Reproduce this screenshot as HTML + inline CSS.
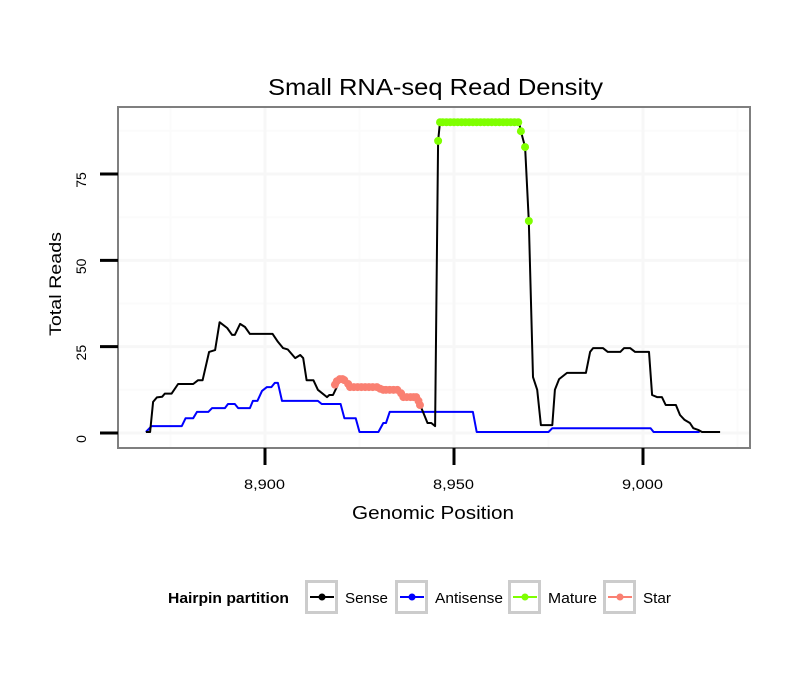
<!DOCTYPE html>
<html><head><meta charset="utf-8"><style>
body{margin:0;background:#fff}
svg text{font-family:"Liberation Sans",sans-serif}
</style></head><body>
<svg id="chart" width="810" height="690" xmlns="http://www.w3.org/2000/svg">
<rect width="810" height="690" fill="#fff"/>
<text x="268" y="95" font-size="23" textLength="335" lengthAdjust="spacingAndGlyphs">Small RNA-seq Read Density</text>
<g id="grid"></g>
<g id="series"></g>
<rect x="118" y="107" width="632" height="341" fill="none" stroke="#7f7f7f" stroke-width="2"/>
<g id="axes"></g>
<text x="352" y="519" font-size="18" textLength="162" lengthAdjust="spacingAndGlyphs">Genomic Position</text>
<text transform="translate(61,284) rotate(-90)" font-size="17" text-anchor="middle" textLength="104" lengthAdjust="spacingAndGlyphs">Total Reads</text>
<g id="legend">
<text x="168" y="603" font-size="15" font-weight="bold" textLength="121" lengthAdjust="spacingAndGlyphs">Hairpin partition</text>
</g>
</svg>
<script>
const xTicks=[8900,8950,9000];
const xTickLabels=["8,900","8,950","9,000"];
const yTicks=[0,25,50,75];
const yTickLabels=["0","25","50","75"];
const sensePos=[8868.5,8869.6,8870.4,8871.4,8872.8,8873.5,8875.3,8877,8881,8882.3,8883.5,8885.2,8886.8,8888,8890,8891.3,8892,8893.4,8894.7,8896,8902,8903.4,8904.8,8906,8908,8909.3,8910.1,8911,8912.8,8914,8916.4,8917,8918,8919,8919.8,8921,8922.5,8929.6,8931.3,8935,8936.6,8940,8941,8941.8,8943,8944,8945,8945.8,8946.3,8967.2,8967.7,8968.8,8969.8,8970.9,8972,8973,8976,8976.7,8977.8,8979.9,8984.9,8986,8986.8,8989.4,8990.7,8994,8995,8996.6,8997.9,9001.6,9002.4,9003.7,9005,9006,9008.7,9009.8,9011,9012.4,9013.3,9014.6,9015.6,9020.4];
const senseVal=[0.3,0.3,9,10.3,10.5,11.4,11.4,14.2,14.2,15.3,15.3,23.5,24,32.1,30.4,28.4,28.4,31.6,30.7,28.7,28.7,26.4,24.6,24.2,21.7,22.6,21.7,15.3,15.3,12.5,10.4,11,11,13.3,15.6,15.3,13.3,13.3,12.5,12.5,10.4,10.4,8.1,6.1,2.9,2.9,2.0,84.6,90,90,87.4,82.8,61.4,16.2,12.5,2.3,2.3,12.5,15.6,17.4,17.4,23.5,24.6,24.6,23.5,23.5,24.6,24.6,23.5,23.5,11,10.4,10.4,8.1,8.1,5.2,3.8,2.9,1.4,0.9,0.3,0.3];
const antiPos=[8868.5,8870,8878,8879,8881,8882,8885,8886,8889.4,8890.2,8892,8892.9,8896,8896.8,8898,8899.2,8900.5,8901.7,8902.6,8903.4,8904.5,8914,8915,8920,8921,8924,8925,8930,8931.3,8932,8933,8955,8956,8975,8976,9002,9002.8,9015];
const antiVal=[0.3,2,2,4.3,4.3,6.1,6.1,7.2,7.2,8.4,8.4,7.2,7.2,9.3,9.3,12.2,13.3,13.3,14.5,14.5,9.3,9.3,8.4,8.4,4.3,4.3,0.3,0.3,2.9,2.9,6.1,6.1,0.3,0.3,1.4,1.4,0.3,0.3];
const maturePos=[8945.8,8946.3,8947,8948,8949,8950,8951,8952,8953,8954,8955,8956,8957,8958,8959,8960,8961,8962,8963,8964,8965,8966,8967,8967.7,8968.8,8969.8];
const matureVal=[84.6,90,90,90,90,90,90,90,90,90,90,90,90,90,90,90,90,90,90,90,90,90,90,87.4,82.8,61.4];
const starPos=[8918.5,8919,8919.8,8920.5,8921,8922,8922.5,8923.5,8924.5,8925.5,8926.5,8927.5,8928.5,8929.6,8930.5,8931.3,8932,8933,8934,8935,8936,8936.6,8937.5,8938.5,8939.3,8940,8940.6,8941];
const starVal=[14,15,15.6,15.6,15.3,14.2,13.3,13.3,13.3,13.3,13.3,13.3,13.3,13.3,12.8,12.5,12.5,12.5,12.5,12.5,11.5,10.4,10.4,10.4,10.4,10.4,9.3,8.1];

const NS="http://www.w3.org/2000/svg";
const X0=118,X1=750,Y0=107,Y1=448;
function xs(v){return 265+(v-8900)*3.78;}
function ys(v){return 433-v*3.453;}
function mk(tag,attrs,parent){const e=document.createElementNS(NS,tag);for(const k in attrs)e.setAttribute(k,attrs[k]);parent.appendChild(e);return e;}
const grid=document.getElementById('grid'),axes=document.getElementById('axes'),ser=document.getElementById('series');
for(let i=0;i<xTicks.length+1;i++){const v=xTicks[0]-25+i*50;const x=xs(v);if(x>X0&&x<X1){const l=mk('line',{x1:x,x2:x,y1:Y0,y2:Y1,stroke:'#fbfbfb','stroke-width':2},grid);}}
for(let i=0;i<yTicks.length+1;i++){const v=12.5+i*25;const y=ys(v);if(y>Y0&&y<Y1){const l=mk('line',{x1:X0,x2:X1,y1:y,y2:y,stroke:'#fbfbfb','stroke-width':2},grid);}}
xTicks.forEach((v,i)=>{const x=xs(v);
const g=mk('line',{x1:x,x2:x,y1:Y0,y2:Y1,stroke:'#f7f7f7','stroke-width':3},grid);

const t=mk('line',{x1:x,x2:x,y1:Y1,y2:Y1+17,stroke:'#000','stroke-width':3},axes);

const tx=mk('text',{x:x-0.5,y:489,'font-size':14,'text-anchor':'middle',textLength:41,lengthAdjust:'spacingAndGlyphs'},axes);tx.textContent=xTickLabels[i];
});
yTicks.forEach((v,i)=>{const y=ys(v);
const g=mk('line',{x1:X0,x2:X1,y1:y,y2:y,stroke:'#f7f7f7','stroke-width':3},grid);

const t=mk('line',{x1:X0-18,x2:X0,y1:y,y2:y,stroke:'#000','stroke-width':3},axes);

const tx=mk('text',{transform:`translate(86,${y+6}) rotate(-90)`,'font-size':14,'text-anchor':'middle'},axes);tx.textContent=yTickLabels[i];
});
function line(pos,val,color,name){const d=pos.map((p,i)=>(i?'L':'M')+xs(p).toFixed(1)+','+ys(val[i]).toFixed(1)).join('');
const p=mk('path',{d:d,fill:'none',stroke:color,'stroke-width':2,'stroke-linejoin':'round'},ser);
}
function pts(pos,val,color,name){pos.forEach((p,i)=>{const c=mk('circle',{cx:xs(p),cy:ys(val[i]),r:4,fill:color},ser);
});}
line(antiPos,antiVal,'#0000ff','antisense-line');
line(sensePos,senseVal,'#000','sense-line');
pts(maturePos,matureVal,'#7fff00','mature-point');
line(starPos,starVal,'#fa8072','star-line');pts(starPos,starVal,'#fa8072','star-point');
const leg=document.getElementById('legend');
const legNames=['Sense','Antisense','Mature','Star'];
const legColors=['#000','#0000ff','#7fff00','#fa8072'];
const legX=[305,395,508,603];
const legW=[43,68,49,28];
legNames.forEach((n,i)=>{const x=legX[i];
const b=mk('rect',{x:x+1.5,y:581.5,width:30,height:31,fill:'#fff',stroke:'#cccccc','stroke-width':3},leg);

const l=mk('line',{x1:x+5,x2:x+29,y1:597,y2:597,stroke:legColors[i],'stroke-width':2},leg);

const c=mk('circle',{cx:x+17,cy:597,r:3.5,fill:legColors[i]},leg);

const t=mk('text',{x:x+40,y:603,'font-size':15,textLength:legW[i],lengthAdjust:'spacingAndGlyphs'},leg);t.textContent=n;
});
</script>
</body></html>
